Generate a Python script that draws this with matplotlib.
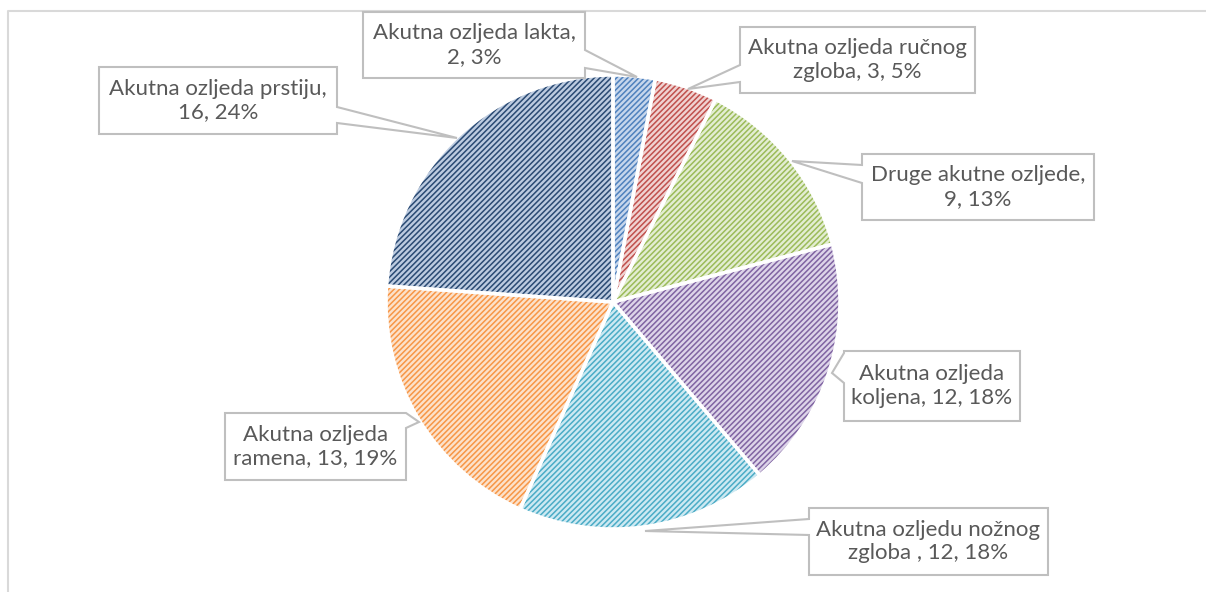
import matplotlib.pyplot as plt
from matplotlib.patches import Polygon

plt.rcParams['font.family'] = ['Lato', 'DejaVu Sans']
plt.rcParams['hatch.linewidth'] = 1.1

# data
labels = ['Akutna ozljeda lakta,\n2, 3%',
          'Akutna ozljeda ručnog\nzgloba, 3, 5%',
          'Druge akutne ozljede,\n9, 13%',
          'Akutna ozljeda\nkoljena, 12, 18%',
          'Akutna ozljedu nožnog\nzgloba , 12, 18%',
          'Akutna ozljeda\nramena, 13, 19%',
          'Akutna ozljeda prstiju,\n16, 24%']
values = [2, 3, 9, 12, 12, 13, 16]
fill_colors = ['#C6D6EC', '#F0D2D1', '#E3EDD2', '#DDD4E9', '#CDE9F2', '#FCE1CA', '#BCCBE0']
hatch_colors = ['#4F81BD', '#C0504D', '#9BBB59', '#8064A2', '#4BACC6', '#F79646', '#2A4A73']

# callout layout in pixels: box (x0, y0, x1, y1), side of pointer, pointer base (ya, yb), tip
boxes = [(363, 12, 585, 78), (740, 27, 975, 93), (862, 154, 1094, 220),
         (844, 351, 1020, 421), (809, 508, 1048, 575), (225, 413, 406, 480),
         (99, 67, 337, 134)]
sides = ['right', 'left', 'left', 'left', 'left', 'right', 'right']
bases = [(50, 68), (65, 82), (165, 183), (353, 383), (519, 535), (413, 428), (107, 123)]
tips = [(637, 77), (688, 89), (792, 161), (832, 373), (645, 531), (419, 422), (457, 138)]

W, H = 1206, 592
fig = plt.figure(figsize=(W / 100, H / 100), dpi=100)
ax = fig.add_axes([0, 0, 1, 1])

def Y(y):
    return H - y

# chart frame
ax.plot([8, 8, W], [Y(H), Y(11), Y(11)], color='#D9D9D9', lw=1.5)

center = (613, Y(302))
radius = 227
wedges, _ = ax.pie(values, startangle=90, counterclock=False, center=center,
                   radius=radius, wedgeprops=dict(linewidth=0), frame=True)
for w, fc, hc in zip(wedges, fill_colors, hatch_colors):
    w.set_facecolor(fc)
    w.set_edgecolor(hc)
    w.set_hatch('//////')
ax.pie(values, startangle=90, counterclock=False, center=center, radius=radius,
       wedgeprops=dict(facecolor='none', edgecolor='white', linewidth=2.5), frame=True)
ax.set_xlim(0, W)
ax.set_ylim(0, H)
ax.set_aspect('equal')
ax.axis('off')

for lab, (x0, y0, x1, y1), side, (ya, yb), (tx, ty) in zip(labels, boxes, sides, bases, tips):
    if side == 'right':
        pts = [(x0, y0), (x1, y0), (x1, ya), (tx, ty), (x1, yb), (x1, y1), (x0, y1)]
    else:
        pts = [(x0, y0), (x1, y0), (x1, y1), (x0, y1), (x0, yb), (tx, ty), (x0, ya)]
    poly = Polygon([(px, Y(py)) for px, py in pts], closed=True, facecolor='white',
                   edgecolor='#BFBFBF', linewidth=1.5, zorder=5)
    ax.add_patch(poly)
    ax.text((x0 + x1) / 2, Y((y0 + y1) / 2), lab, ha='center', va='center',
            fontsize=16, color='#595959', linespacing=1.2, zorder=6)

fig.savefig('out.png', dpi=100)
